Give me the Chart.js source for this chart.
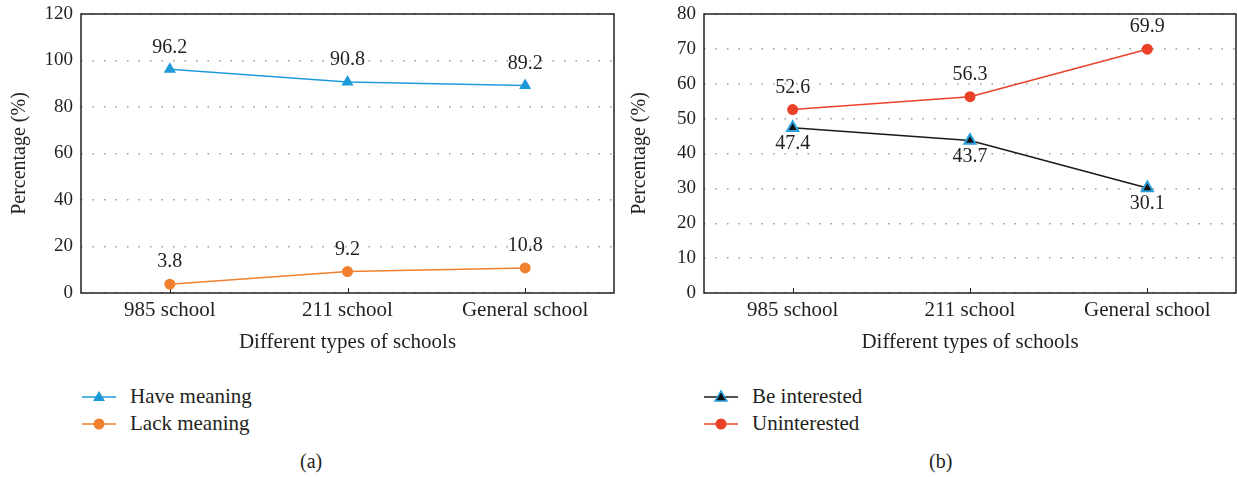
<!DOCTYPE html>
<html>
<head>
<meta charset="utf-8">
<script src="https://cdn.jsdelivr.net/npm/chart.js@4.4.1/dist/chart.umd.min.js"></script>
<style>
  body { margin: 0; background: #fff; width: 1237px; height: 477px; overflow: hidden; position: relative;
    font-family: "Liberation Serif", serif; color: #231f20; }
  .wrap { position: absolute; top: 0; height: 360px; }
  #leftWrap { left: 0; width: 620px; }
  #rightWrap { left: 620px; width: 617px; }
  .legend { position: absolute; font-size: 21px; }
  .legend .item { display: flex; align-items: center; height: 27px; }
  .legend svg { margin-right: 14px; }
  .caption { position: absolute; top: 450px; font-size: 20px; }
</style>
</head>
<body>
<div class="wrap" id="leftWrap"><canvas id="chartA" width="620" height="360"></canvas></div>
<div class="wrap" id="rightWrap"><canvas id="chartB" width="617" height="360"></canvas></div>
<div class="legend" id="legendA" style="left:82px; top:383px;"></div>
<div class="legend" id="legendB" style="left:704px; top:383px;"></div>
<div class="caption" style="left:300px;">(a)</div>
<div class="caption" style="left:929px;">(b)</div>
<script>
// Data
const schools = ["985 school", "211 school", "General school"];
const haveMeaning = [96.2, 90.8, 89.2];
const lackMeaning = [3.8, 9.2, 10.8];
const beInterested = [47.4, 43.7, 30.1];
const uninterested = [52.6, 56.3, 69.9];

const textColor = "#231f20";
const fontFamily = "'Liberation Serif', serif";

// frame around the plot area + small inward ticks on x axis
const framePlugin = {
  id: "frame",
  beforeDatasetsDraw(chart) {
    const { ctx, chartArea, scales } = chart;
    ctx.save();
    ctx.strokeStyle = textColor;
    ctx.lineWidth = 1.5;
    ctx.strokeRect(chartArea.left, chartArea.top, chartArea.right - chartArea.left, chartArea.bottom - chartArea.top);
    ctx.lineWidth = 1;
    scales.x.ticks.forEach((t, i) => {
      const x = Math.round(scales.x.getPixelForTick(i)) + 0.5;
      ctx.beginPath();
      ctx.moveTo(x, chartArea.bottom);
      ctx.lineTo(x, chartArea.bottom - 5);
      ctx.stroke();
    });
    ctx.restore();
  },
};

// value labels above / below points
const valueLabels = {
  id: "valueLabels",
  afterDatasetsDraw(chart) {
    const { ctx } = chart;
    ctx.save();
    ctx.font = "20px " + fontFamily;
    ctx.fillStyle = textColor;
    ctx.textAlign = "center";
    ctx.textBaseline = "middle";
    chart.data.datasets.forEach((ds, di) => {
      const meta = chart.getDatasetMeta(di);
      meta.data.forEach((pt, i) => {
        const off = ds.labelBelow ? 16 : -22;
        ctx.fillText(ds.data[i].toFixed(1), pt.x, pt.y + off);
      });
    });
    ctx.restore();
  },
};

function makeOptions(yMax, yStep, yWidth, padRight) {
  return {
    responsive: false,
    animation: false,
    layout: { autoPadding: false, padding: { top: 14, right: padRight, left: 0, bottom: 0 } },
    plugins: { legend: { display: false }, tooltip: { enabled: false } },
    scales: {
      x: {
        offset: true,
        grid: { display: false, drawTicks: false },
        border: { display: false },
        ticks: { color: textColor, font: { family: fontFamily, size: 21 }, padding: 5 },
        title: { display: true, text: "Different types of schools", color: textColor,
          font: { family: fontFamily, size: 21 }, padding: { top: 0, bottom: 5 } },
        afterFit(scale) {
          scale.height = 67;
          scale.paddingLeft = 0;
          scale.paddingRight = 0;
        },
      },
      y: {
        min: 0,
        max: yMax,
        ticks: { stepSize: yStep, color: textColor, font: { family: fontFamily, size: 19 }, padding: 8 },
        grid: { color: "#9a9a9a", lineWidth: 1.5, drawTicks: false },
        border: { display: false, dash: [1.5, 10] },
        title: { display: true, text: "Percentage (%)", color: textColor,
          font: { family: fontFamily, size: 20 }, padding: { top: 8, bottom: 0 } },
        afterFit(scale) {
          scale.width = yWidth;
          scale.paddingTop = 0;
          scale.paddingBottom = 0;
        },
      },
    },
  };
}

new Chart(document.getElementById("chartA"), {
  type: "line",
  data: {
    labels: schools,
    datasets: [
      {
        label: "Have meaning",
        data: haveMeaning,
        borderColor: "#1f9ad8",
        backgroundColor: "#1f9ad8",
        borderWidth: 1.5,
        pointStyle: "triangle",
        pointRadius: 7,
        pointBorderWidth: 0,
        tension: 0,
      },
      {
        label: "Lack meaning",
        data: lackMeaning,
        borderColor: "#f0802e",
        backgroundColor: "#f0802e",
        borderWidth: 1.5,
        pointStyle: "circle",
        pointRadius: 5.5,
        pointBorderWidth: 0,
        tension: 0,
      },
    ],
  },
  options: makeOptions(120, 20, 81, 6),
  plugins: [framePlugin, valueLabels],
});

new Chart(document.getElementById("chartB"), {
  type: "line",
  data: {
    labels: schools,
    datasets: [
      {
        label: "Be interested",
        data: beInterested,
        borderColor: "#1a1a1a",
        backgroundColor: "#111111",
        pointBorderColor: "#2aa0dd",
        borderWidth: 1.5,
        pointStyle: "triangle",
        pointRadius: 6.5,
        pointBorderWidth: 2,
        tension: 0,
        labelBelow: true,
      },
      {
        label: "Uninterested",
        data: uninterested,
        borderColor: "#eb4128",
        backgroundColor: "#eb4128",
        borderWidth: 1.5,
        pointStyle: "circle",
        pointRadius: 5.5,
        pointBorderWidth: 0,
        tension: 0,
      },
    ],
  },
  options: makeOptions(80, 10, 84, 1),
  plugins: [framePlugin, valueLabels],
});

// HTML legends
function legendItem(label, lineColor, marker, fill, stroke) {
  const shape = marker === "triangle"
    ? `<polygon points="17,5 23,15 11,15" fill="${fill}" stroke="${stroke}" stroke-width="${stroke === fill ? 0 : 1.5}"/>`
    : `<circle cx="17" cy="11" r="5.5" fill="${fill}"/>`;
  return `<div class="item"><svg width="34" height="22"><line x1="0" y1="11" x2="34" y2="11" stroke="${lineColor}" stroke-width="1.5"/>${shape}</svg>${label}</div>`;
}
document.getElementById("legendA").innerHTML =
  legendItem("Have meaning", "#1f9ad8", "triangle", "#1f9ad8", "#1f9ad8") +
  legendItem("Lack meaning", "#f0802e", "circle", "#f0802e", "#f0802e");
document.getElementById("legendB").innerHTML =
  legendItem("Be interested", "#1a1a1a", "triangle", "#111111", "#2aa0dd") +
  legendItem("Uninterested", "#eb4128", "circle", "#eb4128", "#eb4128");
</script>
</body>
</html>
